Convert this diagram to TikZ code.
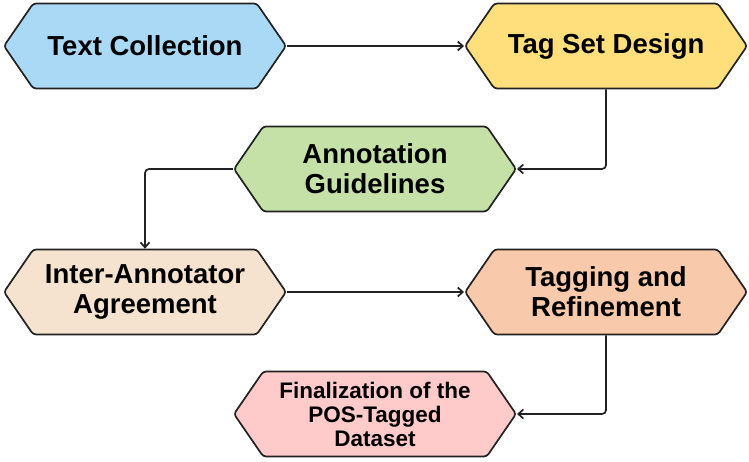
\documentclass[tikz,border=0pt]{standalone}
\usepackage{fontspec}
\setmainfont{Liberation Sans}
\usetikzlibrary{arrows.meta,positioning,shapes.symbols}
\definecolor{stBlue}{HTML}{A9D9F5}
\definecolor{stYellow}{HTML}{FEDF7B}
\definecolor{stGreen}{HTML}{C6E1A7}
\definecolor{stBeige}{HTML}{F5E3D0}
\definecolor{stPeach}{HTML}{F8C9AA}
\definecolor{stPink}{HTML}{FFCACA}
\definecolor{stLine}{HTML}{222222}

\begin{document}
\begin{tikzpicture}[x=1pt,y=-1pt,
  hexbox/.style={shape=signal,signal to=east and west,signal pointer angle=111,
    draw=stLine,fill=#1,line width=1.7pt,rounded corners=3pt,
    minimum width=282pt,minimum height=85pt,inner sep=2pt,align=center,
    font=\bfseries\fontsize{27.5}{30}\selectfont},
  arr/.style={-{Straight Barb[length=5pt,width=9pt]},line width=1.7pt,stLine,rounded corners=4pt}]
\useasboundingbox (0,0) rectangle (749,462);
\node[hexbox=stBlue] (coll) at (145,46) {Text Collection};
\node[hexbox=stYellow,right=177pt of coll] (tagset) {Tag Set Design};
\node[hexbox=stGreen] (guide) at (375,169) {Annotation\\Guidelines};
\node[hexbox=stBeige] (iaa) at (145,292) {Inter-Annotator\\Agreement};
\node[hexbox=stPeach,right=177pt of iaa] (refine) {Tagging and\\Refinement};
\node[hexbox=stPink,font=\bfseries\fontsize{22.5}{24}\selectfont] (final) at (375,414) {Finalization of the\\POS-Tagged\\Dataset};
\draw[arr] (coll) -- (tagset);
\draw[arr] (tagset.south) |- (guide.east);
\draw[arr] (guide.west) -| (iaa.north);
\draw[arr] (iaa) -- (refine);
\draw[arr] (refine.south) |- (final.east);
\end{tikzpicture}
\end{document}
